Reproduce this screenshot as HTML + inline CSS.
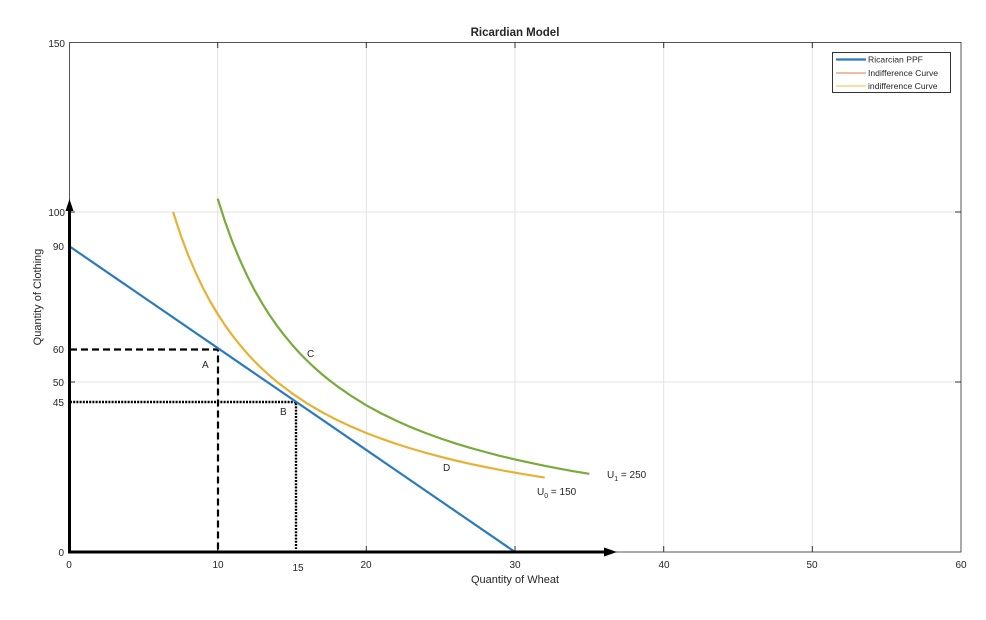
<!DOCTYPE html>
<html>
<head>
<meta charset="utf-8">
<style>
  html,body{margin:0;padding:0;background:#fff;}
  svg{display:block;}
  text{font-family:"Liberation Sans",Arial,sans-serif;fill:#262626;}
</style>
</head>
<body>
<svg width="986" height="620" viewBox="0 0 986 620" xmlns="http://www.w3.org/2000/svg">
  <rect x="0" y="0" width="986" height="620" fill="#fff"/>
  <!-- grid -->
  <g stroke="#e3e3e3" stroke-width="1">
    <line x1="217.7" y1="42" x2="217.7" y2="552"/>
    <line x1="366.3" y1="42" x2="366.3" y2="552"/>
    <line x1="515" y1="42" x2="515" y2="552"/>
    <line x1="663.7" y1="42" x2="663.7" y2="552"/>
    <line x1="812.3" y1="42" x2="812.3" y2="552"/>
    <line x1="69" y1="212" x2="961" y2="212"/>
    <line x1="69" y1="382" x2="961" y2="382"/>
  </g>
  <!-- box -->
  <rect x="69.5" y="42.5" width="891.5" height="509.5" fill="none" stroke="#555" stroke-width="1"/>
  <!-- ticks -->
  <g stroke="#333" stroke-width="1">
    <line x1="217.7" y1="552" x2="217.7" y2="546"/>
    <line x1="366.3" y1="552" x2="366.3" y2="546"/>
    <line x1="515" y1="552" x2="515" y2="546"/>
    <line x1="663.7" y1="552" x2="663.7" y2="546"/>
    <line x1="812.3" y1="552" x2="812.3" y2="546"/>
    <line x1="217.7" y1="42" x2="217.7" y2="48"/>
    <line x1="366.3" y1="42" x2="366.3" y2="48"/>
    <line x1="515" y1="42" x2="515" y2="48"/>
    <line x1="663.7" y1="42" x2="663.7" y2="48"/>
    <line x1="812.3" y1="42" x2="812.3" y2="48"/>
    <line x1="69" y1="212" x2="75" y2="212"/>
    <line x1="69" y1="382" x2="75" y2="382"/>
    <line x1="961" y1="212" x2="955" y2="212"/>
    <line x1="961" y1="382" x2="955" y2="382"/>
  </g>

  <!-- title -->
  <text x="515" y="36" font-size="11.5" font-weight="bold" text-anchor="middle" fill="#111">Ricardian Model</text>

  <!-- y tick labels -->
  <g font-size="10" text-anchor="end">
    <text x="65" y="47">150</text>
    <text x="65" y="216">100</text>
    <text x="64" y="250">90</text>
    <text x="64" y="353">60</text>
    <text x="64" y="386">50</text>
    <text x="64" y="406">45</text>
    <text x="64" y="556">0</text>
  </g>
  <!-- x tick labels -->
  <g font-size="10" text-anchor="middle">
    <text x="69" y="568">0</text>
    <text x="218" y="568">10</text>
    <text x="298" y="571">15</text>
    <text x="366" y="568">20</text>
    <text x="515" y="568">30</text>
    <text x="664" y="568">40</text>
    <text x="812" y="568">50</text>
    <text x="961" y="568">60</text>
  </g>
  <!-- axis labels -->
  <text x="515" y="583" font-size="11" text-anchor="middle">Quantity of Wheat</text>
  <text transform="translate(41,297) rotate(-90)" font-size="11" text-anchor="middle">Quantity of Clothing</text>

  <!-- dashed / dotted guides -->
  <polyline points="70,349.5 218,349.5 218,552" fill="none" stroke="#000" stroke-width="2.2" stroke-dasharray="7,4"/>
  <polyline points="70,402 296,402 296,549" fill="none" stroke="#000" stroke-width="2.4" stroke-dasharray="2,1.2"/>

  <!-- PPF -->
  <line x1="69" y1="246" x2="515" y2="552" stroke="#2b7bc0" stroke-width="2.2"/>

  <!-- U0 yellow -->
  <polyline fill="none" stroke="#e8b135" stroke-width="2.2" stroke-linejoin="round" points="173.1,212 180.5,234.7 187.9,254.5 195.4,272 202.8,287.6 210.2,301.5 217.7,314 225.1,325.3 232.5,335.6 240,345 247.4,353.7 254.8,361.6 262.3,368.9 269.7,375.7 277.1,382 292,393.3 306.9,403.3 321.7,412 336.6,419.8 351.4,426.7 366.3,433 381.2,438.6 396.1,443.8 410.9,448.5 425.8,452.8 440.7,456.8 455.5,460.5 470.4,463.9 485.3,467 500.1,469.9 515,472.7 529.9,475.2 544.7,477.6"/>
  <!-- U1 green -->
  <polyline fill="none" stroke="#78ab3a" stroke-width="2.2" stroke-linejoin="round" points="217.7,198.7 225.1,221.8 232.5,242.2 240,260.2 247.4,276.3 254.8,290.6 262.3,303.6 269.7,315.3 277.1,325.9 284.6,335.7 292,344.6 299.4,352.9 306.9,360.5 314.3,367.5 321.7,374 329.2,380.1 336.6,385.8 351.5,396.1 366.3,405.3 381.2,413.4 396.1,420.6 410.9,427.2 425.8,433.1 440.7,438.5 455.5,443.4 470.4,447.9 485.3,452 500.1,455.9 515,459.4 529.9,462.7 544.7,465.8 559.6,468.7 574.5,471.4 589.3,473.8"/>

  <!-- axes arrows -->
  <line x1="69.5" y1="553" x2="69.5" y2="208" stroke="#000" stroke-width="3"/>
  <polygon points="69.5,199 65.5,211 73.5,211" fill="#000"/>
  <line x1="68" y1="552" x2="606" y2="552" stroke="#000" stroke-width="3"/>
  <polygon points="617,552 604,547.5 604,556.5" fill="#000"/>

  <!-- point labels -->
  <g font-size="10">
    <text x="202" y="368">A</text>
    <text x="280" y="415">B</text>
    <text x="307" y="357">C</text>
    <text x="443" y="471">D</text>
    <text x="607" y="478">U<tspan font-size="7" dy="3">1</tspan><tspan dy="-3"> = 250</tspan></text>
    <text x="537" y="495">U<tspan font-size="7" dy="3">0</tspan><tspan dy="-3"> = 150</tspan></text>
  </g>

  <!-- legend -->
  <rect x="832.5" y="52.5" width="118" height="40" fill="#fff" stroke="#333" stroke-width="1"/>
  <line x1="836" y1="59.5" x2="866" y2="59.5" stroke="#2b7bc0" stroke-width="2.2"/>
  <line x1="836" y1="73" x2="866" y2="73" stroke="#e07a4a" stroke-width="1"/>
  <line x1="836" y1="86" x2="866" y2="86" stroke="#e8c04a" stroke-width="1"/>
  <g font-size="8.6">
    <text x="868" y="62.5">Ricarcian PPF</text>
    <text x="868" y="76">Indifference Curve</text>
    <text x="868" y="89">indifference Curve</text>
  </g>
</svg>
</body>
</html>
